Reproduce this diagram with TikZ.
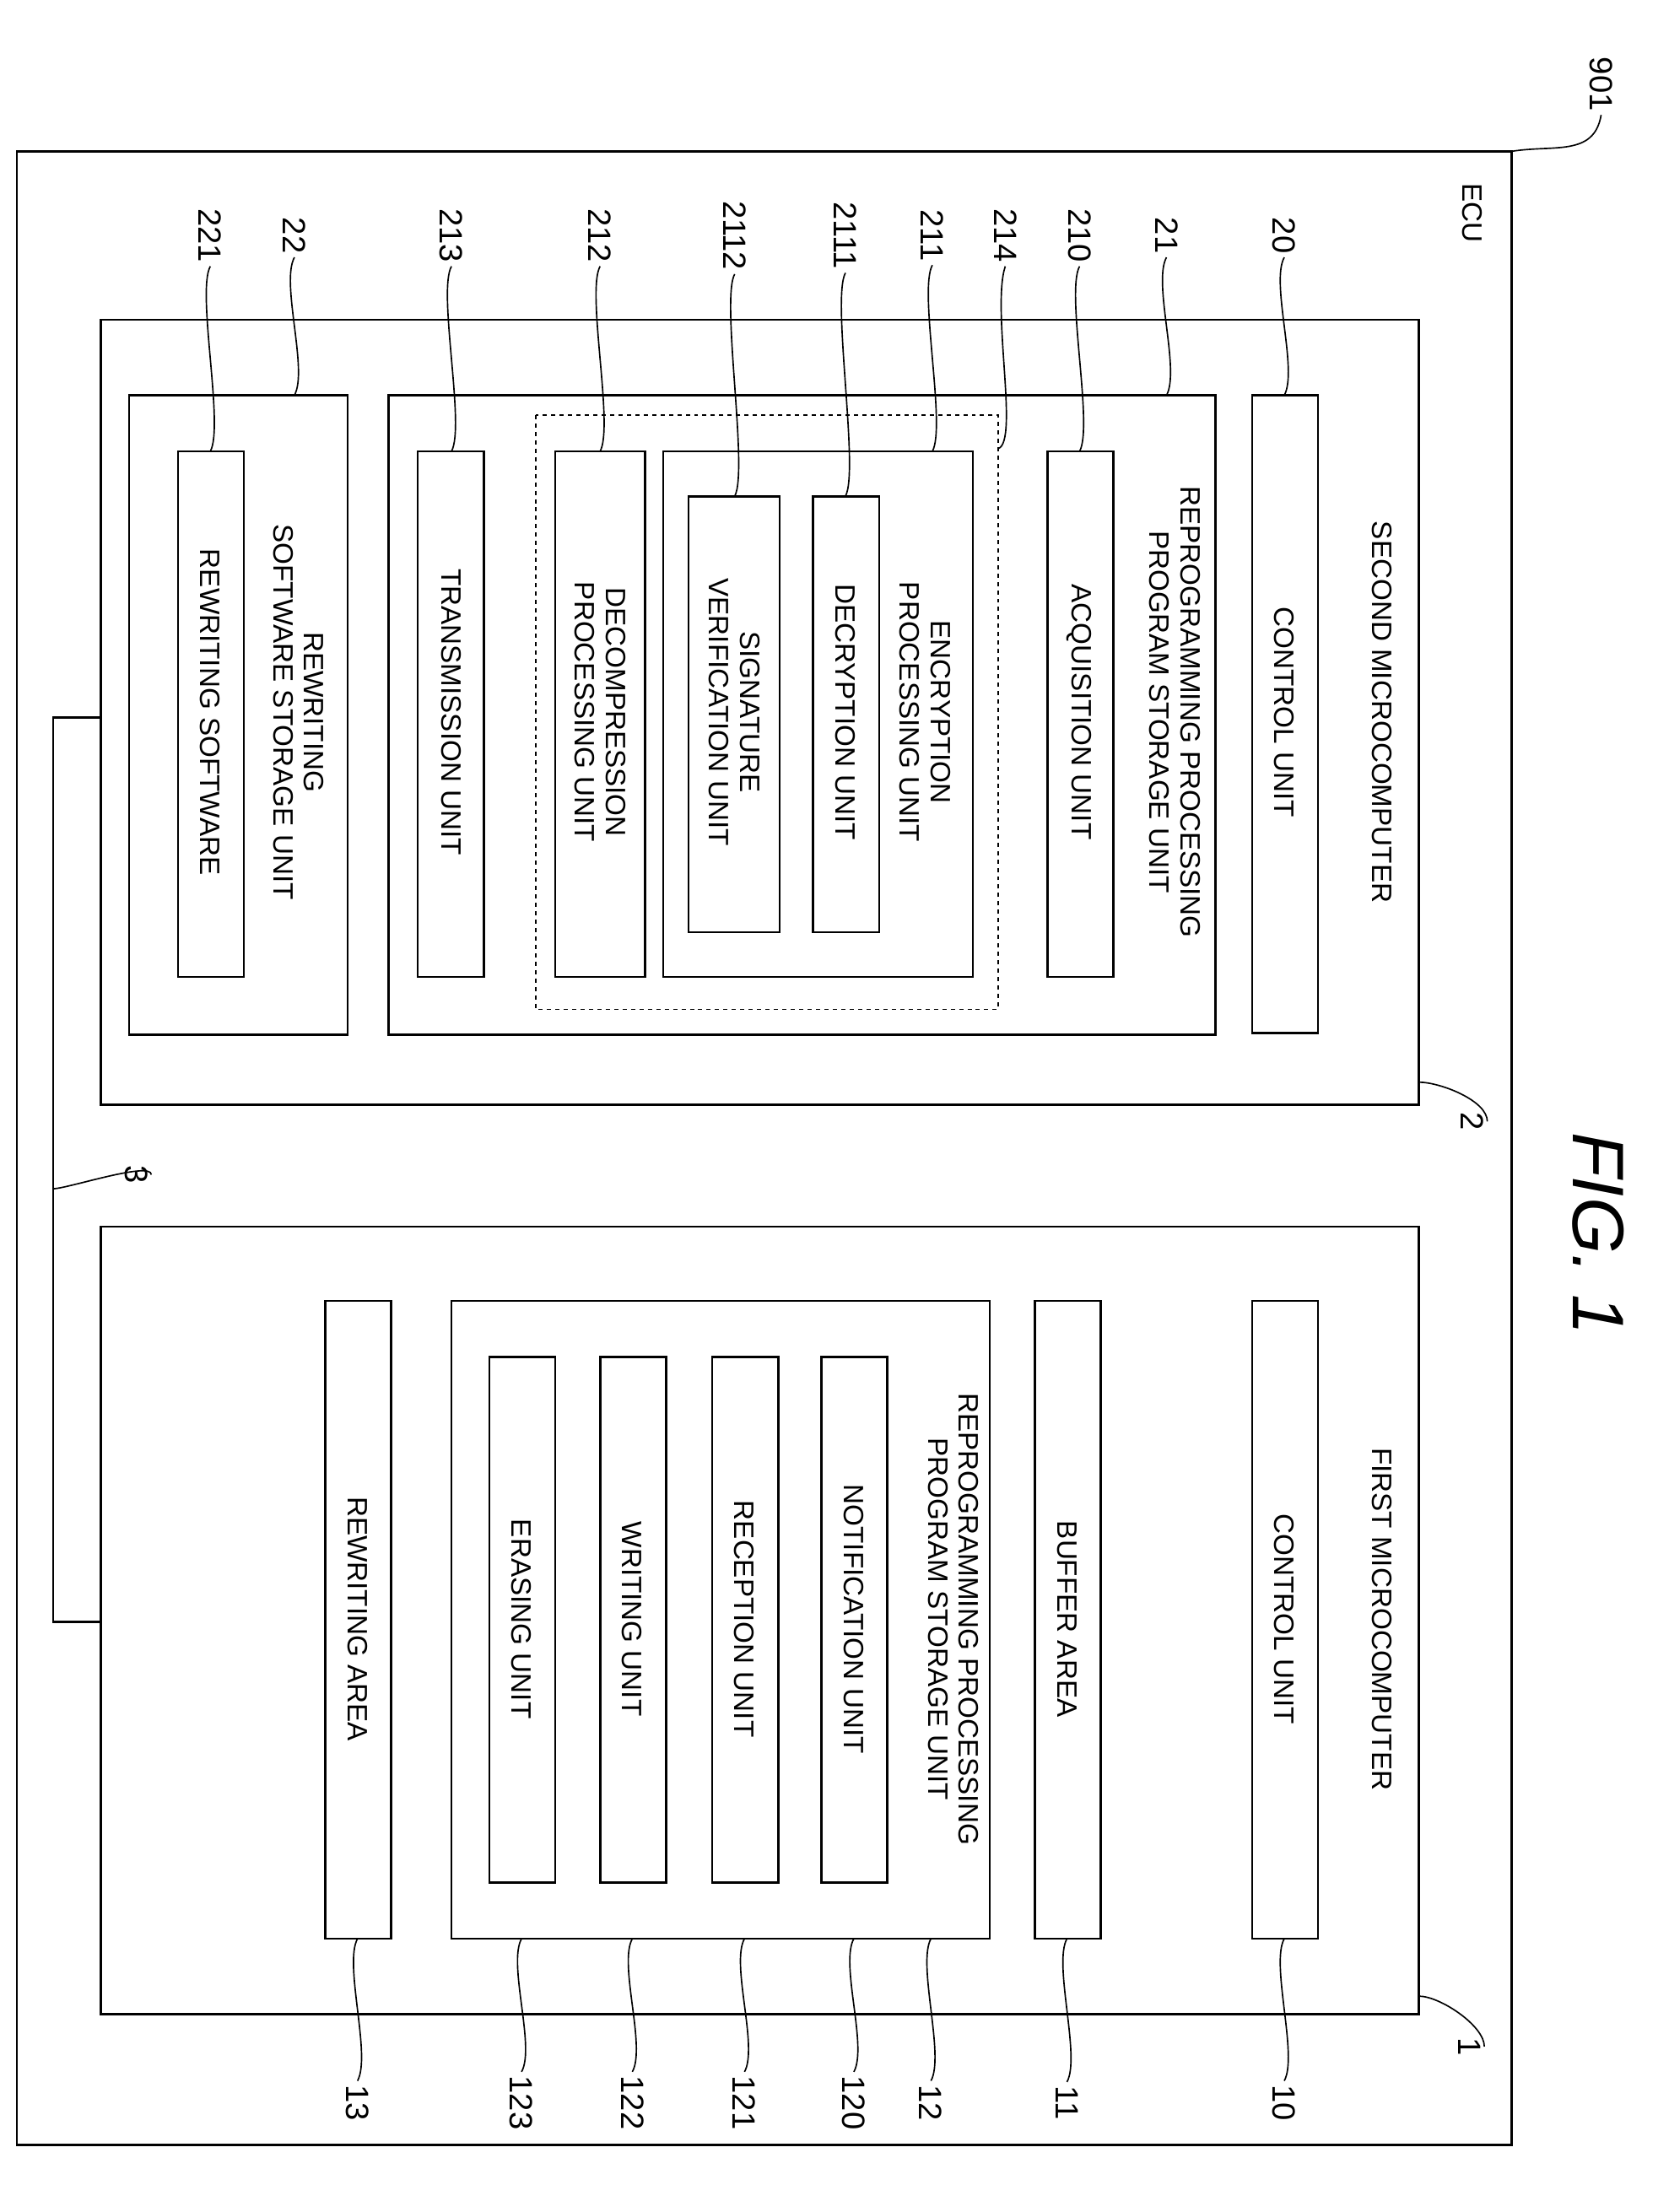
\documentclass[tikz,border=0pt]{standalone}
\usepackage{fontspec}
\setmainfont{Liberation Sans}
\begin{document}
\begin{tikzpicture}[x=1pt,y=-1pt,line width=1.6pt,
  box/.style={draw,line width=1.6pt},
  lbl/.style={rotate=-90,font=\fontsize{20}{22}\selectfont,align=center,inner sep=0pt},
  num/.style={rotate=-90,font=\fontsize{23}{25}\selectfont,inner sep=2pt}]
\useasboundingbox (0,0) rectangle (1190,1578);
\newcommand\leadto[2]{\draw[line width=1pt] (#1) .. controls +(-10,18) and +(10,-18) .. (#2);}
\newcommand\leadfrom[2]{\draw[line width=1pt] (#1) .. controls +(10,-18) and +(-10,18) .. (#2);}

%% frames
\draw[box] (12,108) rectangle (1078,1530);
\node[lbl] (ecu) at (1050,152) {ECU};
\node[num] (n901) at (1142,60) {901};
\draw[line width=1pt] (n901.east) .. controls +(-5,30) and +(30,-5) .. (1078,108);
\node[rotate=-90,font=\fontsize{52}{54}\selectfont\itshape] (fig) at (1140,880) {FIG. 1};

%% second microcomputer
\draw[box] (72,228) rectangle (1012,788);
\node[lbl] (mc2) at (986,508) {SECOND MICROCOMPUTER};
\node[num] (n2) at (1050,800) {2};
\draw[line width=1pt] (n2.north) .. controls +(0,-15) and +(15,0) .. (1012,772);
\draw[box] (893,282) rectangle (940,737);
\node[lbl] (cu20) at (916,508) {CONTROL UNIT};
\draw[box] (277,282) rectangle (867,738);
\node[lbl] (st21) at (838,508) {REPROGRAMMING PROCESSING\\PROGRAM STORAGE UNIT};
\draw[box] (747,322) rectangle (794,697);
\node[lbl] (ac210) at (770,508) {ACQUISITION UNIT};
\draw[line width=1pt,dashed] (382,296) rectangle (712,720);
\draw[box] (473,322) rectangle (694,697);
\node[lbl] (en211) at (660,508) {ENCRYPTION\\PROCESSING UNIT};
\draw[box] (580,354) rectangle (627,665);
\node[lbl] (de2111) at (603,508) {DECRYPTION UNIT};
\draw[box] (491,354) rectangle (556,665);
\node[lbl] (si2112) at (524,508) {SIGNATURE\\VERIFICATION UNIT};
\draw[box] (396,322) rectangle (460,697);
\node[lbl] (dc212) at (428,508) {DECOMPRESSION\\PROCESSING UNIT};
\draw[box] (298,322) rectangle (345,697);
\node[lbl] (tr213) at (322,508) {TRANSMISSION UNIT};
\draw[box] (92,282) rectangle (248,738);
\node[lbl] (sw22) at (213,508) {REWRITING\\SOFTWARE STORAGE UNIT};
\draw[box] (127,322) rectangle (174,697);
\node[lbl] (rs221) at (150,508) {REWRITING SOFTWARE};

%% first microcomputer
\draw[box] (72,875) rectangle (1012,1437);
\node[lbl] (mc1) at (986,1155) {FIRST MICROCOMPUTER};
\node[num] (n1) at (1048,1460) {1};
\draw[line width=1pt] (n1.north) .. controls +(0,-15) and +(15,0) .. (1012,1424);
\draw[box] (893,928) rectangle (940,1383);
\node[lbl] (cu10) at (916,1155) {CONTROL UNIT};
\draw[box] (738,928) rectangle (785,1383);
\node[lbl] (bu11) at (761,1155) {BUFFER AREA};
\draw[box] (322,928) rectangle (706,1383);
\node[lbl] (st12) at (680,1155) {REPROGRAMMING PROCESSING\\PROGRAM STORAGE UNIT};
\draw[box] (586,968) rectangle (633,1343);
\node[lbl] (no120) at (609,1155) {NOTIFICATION UNIT};
\draw[box] (508,968) rectangle (555,1343);
\node[lbl] (re121) at (531,1155) {RECEPTION UNIT};
\draw[box] (428,968) rectangle (475,1343);
\node[lbl] (wr122) at (451,1155) {WRITING UNIT};
\draw[box] (349,968) rectangle (396,1343);
\node[lbl] (er123) at (372,1155) {ERASING UNIT};
\draw[box] (232,928) rectangle (279,1383);
\node[lbl] (ra13) at (255,1155) {REWRITING AREA};

%% bus
\draw (72,512) -| (38,1157) -- (72,1157);
\node[num] (n3) at (97,838) {3};
\draw[line width=1pt] (n3.north) .. controls +(0,-10) and +(10,0) .. (38,848);

%% reference numbers, top
\foreach \t/\x/\y in {20/916/282,21/832/282,210/770/322,211/665/322,2111/603/354,
    2112/524/354,212/428/322,213/322/322,22/210/282,221/150/322}
  {\node[num] (n\t) at (\x,168) {\t};
   \leadto{n\t.east}{\x,\y}}
\node[num] (n214) at (717,168) {214};
\draw[line width=1pt] (n214.east) .. controls +(-10,30) and +(15,-5) .. (712,320);

%% reference numbers, bottom
\foreach \t/\x in {10/916,11/761,12/664,120/609,121/531,122/451,123/372,13/255}
  {\node[num] (n\t) at (\x,1500) {\t};
   \leadfrom{n\t.west}{\x,1383}}
\end{tikzpicture}
\end{document}
